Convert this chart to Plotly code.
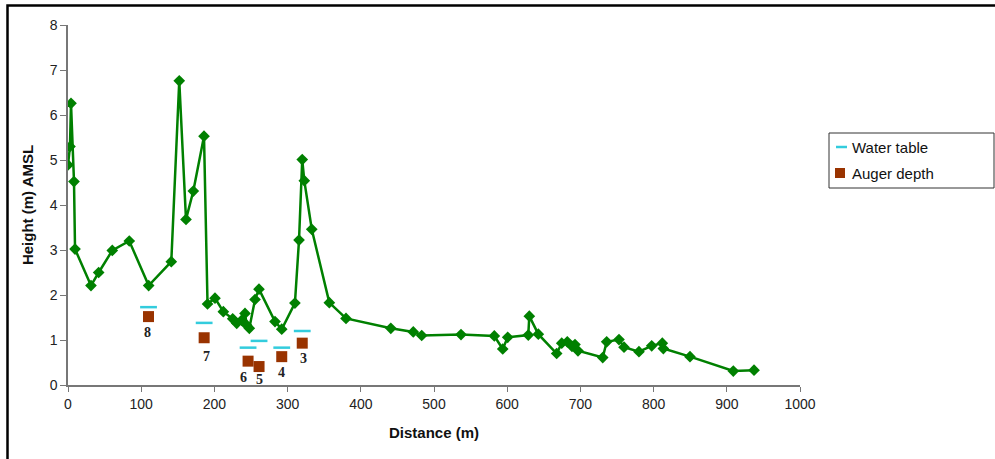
import plotly.graph_objects as go

# Ground profile: distance along transect (m) and surface height (m AMSL)
distance = [0, 2.7, 4.1, 8.2, 9.6, 31.4, 41.9, 60.5, 83.7, 110.2, 141.1, 152, 161.2,
            171.2, 185.8, 190.6, 200.8, 212.2, 225, 230.5, 237.3, 241.8, 244.1, 247.7,
            255.5, 260.9, 282.8, 292, 310, 315.6, 320, 322.8, 333, 357, 379.8, 441,
            471.7, 483.2, 536.9, 582.4, 593.9, 600.7, 628.8, 630.2, 642.5, 667.6,
            674.5, 682.1, 688.5, 692.6, 696.7, 730.5, 735.9, 752.7, 759.6, 780,
            797.4, 811.9, 813.3, 849.7, 908.9, 937.2]
height = [4.89, 5.30, 6.26, 4.52, 3.02, 2.21, 2.50, 2.99, 3.20, 2.21, 2.74, 6.76, 3.68,
          4.31, 5.53, 1.80, 1.93, 1.63, 1.47, 1.37, 1.44, 1.59, 1.33, 1.26,
          1.90, 2.13, 1.41, 1.24, 1.82, 3.22, 5.01, 4.54, 3.46, 1.83, 1.48, 1.26,
          1.18, 1.10, 1.12, 1.09, 0.80, 1.06, 1.11, 1.53, 1.13, 0.70,
          0.93, 0.96, 0.86, 0.90, 0.76, 0.61, 0.96, 1.01, 0.84, 0.74,
          0.87, 0.93, 0.81, 0.63, 0.31, 0.33]

# Auger holes
site_labels = ["8", "7", "6", "5", "4", "3"]
site_distance = [110, 186, 246, 261, 292, 320]
water_table = [1.73, 1.38, 0.83, 0.98, 0.83, 1.20]
auger_depth = [1.52, 1.05, 0.53, 0.41, 0.63, 0.93]

x_ticks = list(range(0, 1001, 100))
y_ticks = list(range(0, 9))

GREEN = "#008000"
CYAN = "#33CCDD"
BROWN = "#993300"

W, H = 995, 459
L, R, T, B = 68, 195, 25, 74
PW, PH = W - L - R, H - T - B


def px(x):
    return (x - L) / PW


def py(y):
    return (H - B - y) / PH


fig = go.Figure()

fig.add_trace(go.Scatter(
    x=distance, y=height, mode="lines+markers",
    line=dict(color=GREEN, width=2.5),
    marker=dict(symbol="diamond", size=9, color=GREEN),
    showlegend=False, hoverinfo="x+y",
))

fig.add_trace(go.Scatter(
    x=site_distance, y=water_table, mode="markers", name="Water table",
    marker=dict(symbol="line-ew", size=12, line=dict(color=CYAN, width=2.5)),
    showlegend=False,
))

fig.add_trace(go.Scatter(
    x=site_distance, y=auger_depth, mode="markers", name="Auger depth",
    marker=dict(symbol="square", size=11, color=BROWN),
    showlegend=False,
))

# Site numbers under the auger squares
label_xshift = [-1, 2, -5, 0, 0, 1]
label_yshift = [-16, -19, -16, -13, -16, -15]
annotations = []
for lab, xd, yd, dx, dy in zip(site_labels, site_distance, auger_depth,
                               label_xshift, label_yshift):
    annotations.append(dict(
        x=xd, y=yd, text="<b>" + lab + "</b>", showarrow=False, xshift=dx, yshift=dy,
        font=dict(family="Liberation Serif", size=14, color="#222222"),
    ))

# Legend entries
annotations += [
    dict(x=px(850), y=py(147), xref="paper", yref="paper", text="Water table",
         showarrow=False, xanchor="left", yanchor="middle",
         font=dict(family="Liberation Sans", size=15, color="#111111")),
    dict(x=px(850), y=py(173), xref="paper", yref="paper", text="Auger depth",
         showarrow=False, xanchor="left", yanchor="middle",
         font=dict(family="Liberation Sans", size=15, color="#111111")),
]

shapes = [
    # outer frame
    dict(type="rect", xref="paper", yref="paper",
         x0=px(7.5), x1=px(1010), y0=py(470), y1=py(5.5),
         line=dict(color="black", width=2.5), fillcolor="rgba(0,0,0,0)", layer="below"),
    # legend box
    dict(type="rect", xref="paper", yref="paper",
         x0=px(829), x1=px(994), y0=py(188), y1=py(133),
         line=dict(color="#333333", width=1), fillcolor="white"),
    dict(type="line", xref="paper", yref="paper",
         x0=px(836), x1=px(847), y0=py(147), y1=py(147),
         line=dict(color=CYAN, width=2.5)),
    dict(type="rect", xref="paper", yref="paper",
         x0=px(835), x1=px(845), y0=py(178), y1=py(168),
         line=dict(color=BROWN, width=0), fillcolor=BROWN),
]

axis_font = dict(family="Liberation Sans", size=14, color="#222222")
title_font = dict(family="Liberation Sans", size=15, color="#111111")

fig.update_layout(
    width=W, height=H,
    margin=dict(l=L, r=R, t=T, b=B, autoexpand=False),
    paper_bgcolor="white", plot_bgcolor="white",
    showlegend=False,
    annotations=annotations,
    shapes=shapes,
    xaxis=dict(
        range=[0, 1000], tickvals=x_ticks, ticktext=[str(v) for v in x_ticks],
        showgrid=False, zeroline=False, showline=True, linecolor="#777777",
        linewidth=1.5, ticks="outside", ticklen=5, tickcolor="#777777",
        tickfont=axis_font,
        title=dict(text="<b>Distance (m)</b>", font=title_font, standoff=17),
    ),
    yaxis=dict(
        range=[0, 8], tickvals=y_ticks, ticktext=[str(v) for v in y_ticks],
        showgrid=False, zeroline=False, showline=True, linecolor="#777777",
        linewidth=1.5, ticks="outside", ticklen=6, tickcolor="#777777",
        tickfont=axis_font,
        title=dict(text="<b>Height (m) AMSL</b>", font=title_font, standoff=12),
    ),
)

fig.write_html("out.html")
